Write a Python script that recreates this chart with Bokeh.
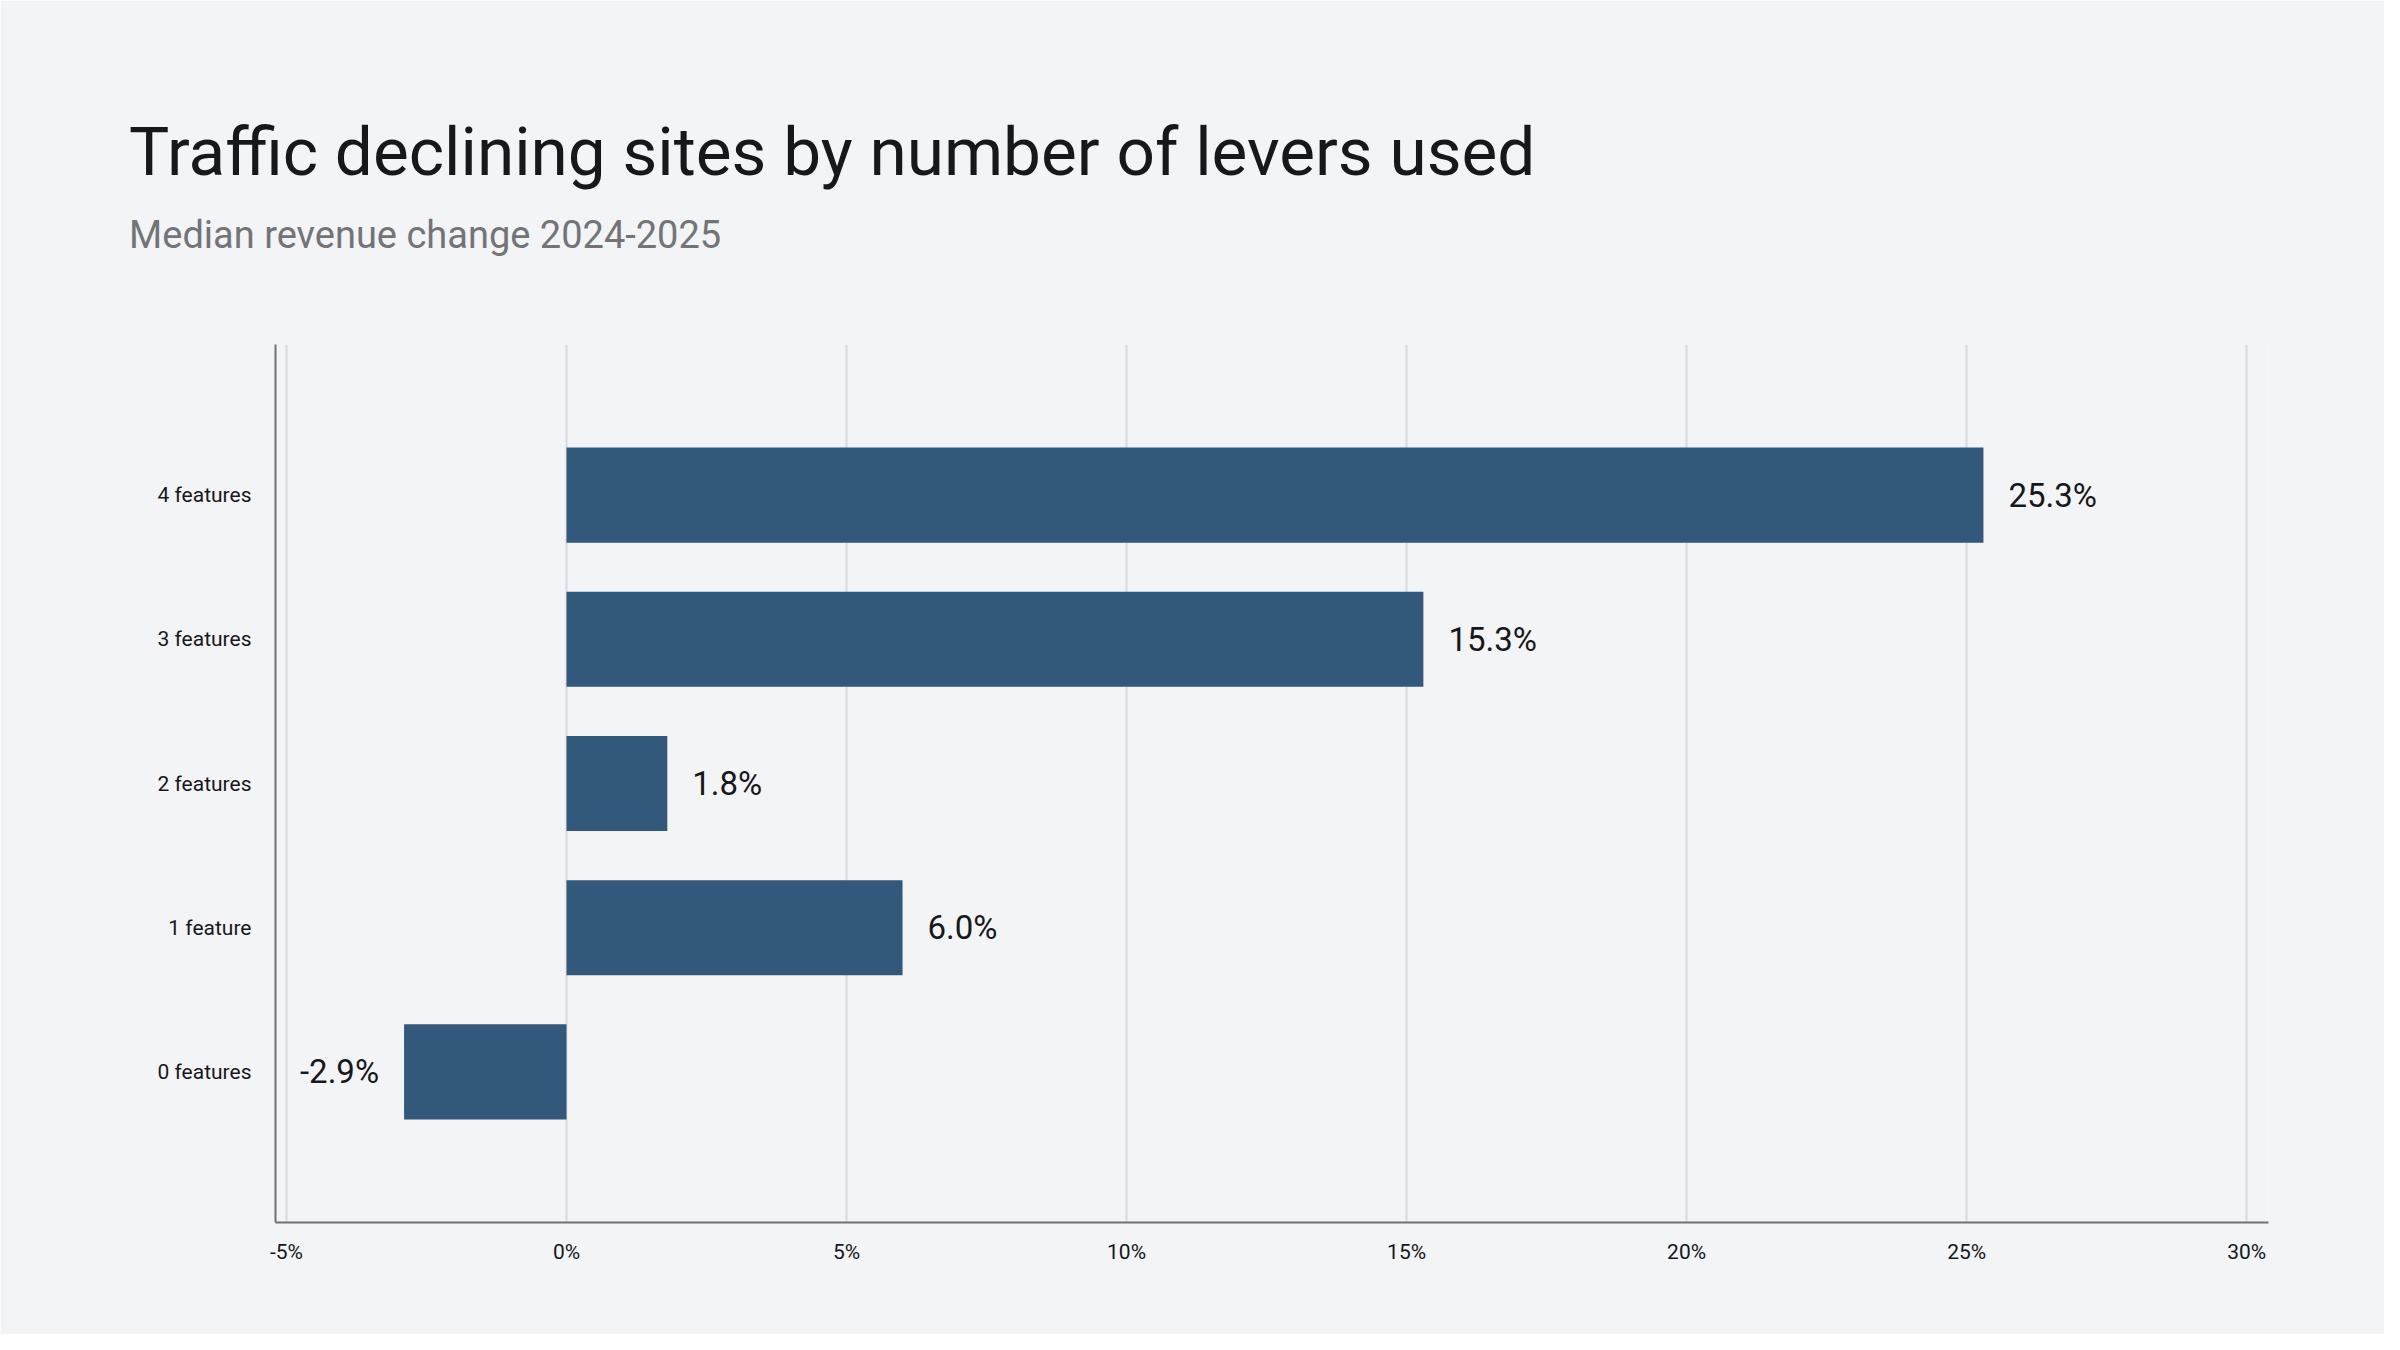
from bokeh.plotting import figure
from bokeh.models import ColumnDataSource, Range1d, FactorRange, FixedTicker, Title
from bokeh.embed import file_html
from bokeh.resources import INLINE
from bokeh.core.properties import value

# ---- data ----
title_text = "Traffic declining sites by number of levers used"
subtitle_text = "Median revenue change 2024-2025"
categories = ["0 features", "1 feature", "2 features", "3 features", "4 features"]
revenue_change = [-2.9, 6.0, 1.8, 15.3, 25.3]
value_labels = ["-2.9%", "6.0%", "1.8%", "15.3%", "25.3%"]
tick_values = [-5, 0, 5, 10, 15, 20, 25, 30]
tick_labels = ["-5%", "0%", "5%", "10%", "15%", "20%", "25%", "30%"]

# ---- style ----
FONT = "Roboto"
BG = "#f3f4f6"
BAR = "#32587b"
AXIS = "#707174"
GRID = "#d9dadc"
INK = "#16181b"
SUB = "#727478"

W, H = 2384, 1334
FRAME_LEFT, FRAME_TOP = 275, 344
FRAME_RIGHT_PAD, FRAME_BOTTOM_PAD = W - 2268, H - 1222

p = figure(
    width=W, height=H,
    x_range=Range1d(-5.196, 30.39),
    y_range=FactorRange(factors=categories, range_padding=0.544,
                        range_padding_units="absolute"),
    output_backend="svg", toolbar_location=None,
    min_border_left=FRAME_LEFT, min_border_top=FRAME_TOP,
    min_border_right=FRAME_RIGHT_PAD, min_border_bottom=FRAME_BOTTOM_PAD,
)
p.background_fill_color = BG
p.border_fill_color = BG
p.outline_line_color = None

src = ColumnDataSource(dict(
    cat=categories,
    val=revenue_change,
    label=value_labels,
    xoff=[25 if v >= 0 else -25 for v in revenue_change],
    align=["left" if v >= 0 else "right" for v in revenue_change],
))

p.hbar(y="cat", left=0, right="val", height=0.66, source=src,
       fill_color=BAR, line_color=None)

p.text(x="val", y="cat", text="label", x_offset="xoff", text_align="align",
       text_baseline="middle", text_font=value(FONT), text_font_size="33px",
       text_color=INK, source=src)

# grid
p.ygrid.visible = False
p.xgrid.ticker = FixedTicker(ticks=tick_values)
p.xgrid.grid_line_color = GRID
p.xgrid.grid_line_width = 2

# axes
for ax in (p.xaxis[0], p.yaxis[0]):
    ax.axis_line_color = AXIS
    ax.axis_line_width = 2
    ax.major_tick_line_color = None
    ax.minor_tick_line_color = None
    ax.major_tick_out = 0
    ax.major_tick_in = 0
    ax.major_label_text_font = FONT
    ax.major_label_text_font_size = "21px"
    ax.major_label_text_color = INK

p.xaxis.ticker = FixedTicker(ticks=tick_values)
p.xaxis.major_label_overrides = {t: l for t, l in zip(tick_values, tick_labels)}
p.xaxis.major_label_standoff = 17
p.yaxis.major_label_standoff = 24

# titles (stacked upward from the frame: spacer, subtitle, title)
p.add_layout(Title(text=" ", text_font=FONT, text_font_size="1px",
                   text_color=BG, standoff=80), "above")
p.add_layout(Title(text=subtitle_text, text_font=FONT, text_font_size="38px",
                   text_font_style="normal", text_color=SUB, align="left",
                   offset=128.6 - FRAME_LEFT, standoff=10), "above")
p.add_layout(Title(text=title_text, text_font=FONT, text_font_size="67.5px",
                   text_font_style="normal", text_color=INK, align="left",
                   offset=128.6 - FRAME_LEFT, standoff=30), "above")

open("out.html", "w").write(file_html(p, INLINE))
